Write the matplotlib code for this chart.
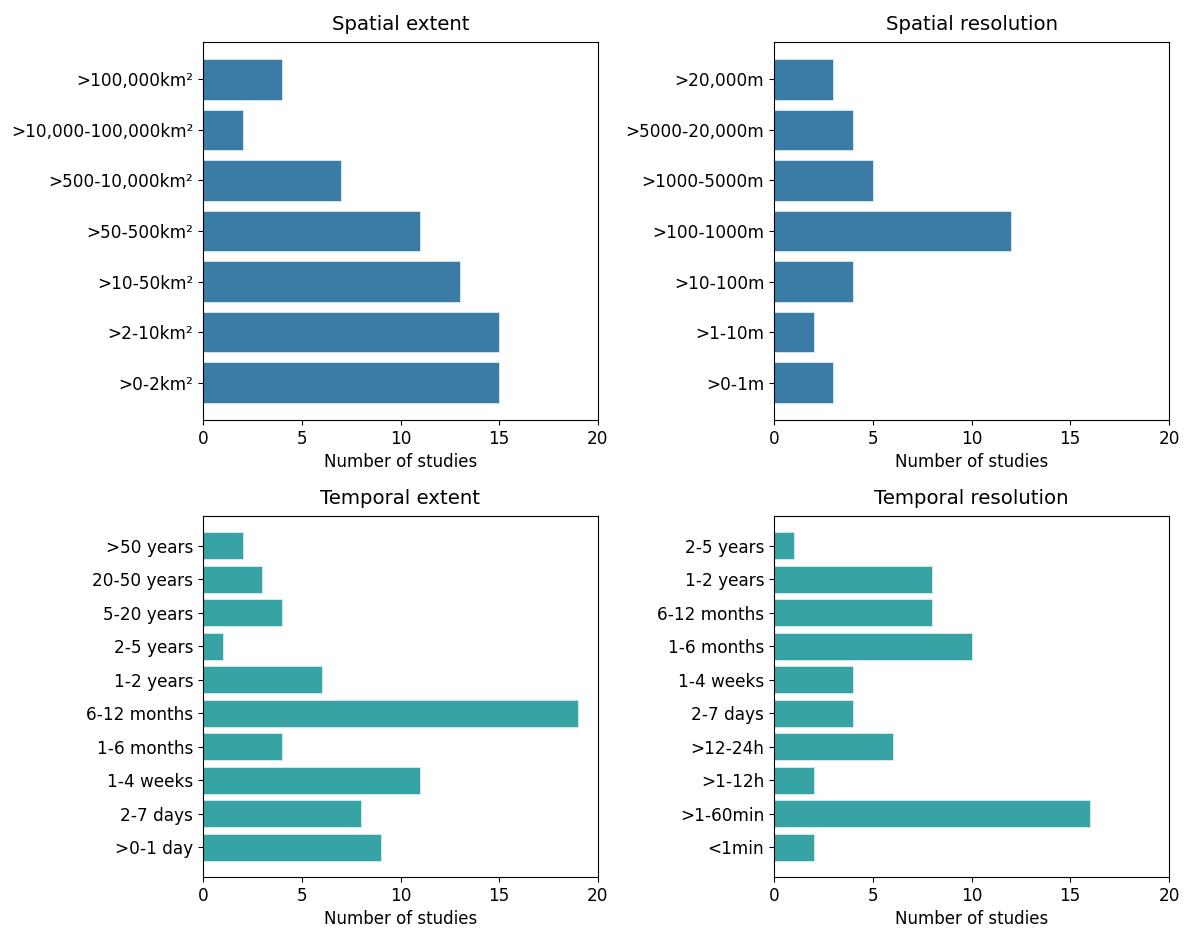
import matplotlib.pyplot as plt

# Study counts per scale category (bottom-to-top order as plotted)
spatial_extent_labels = [">0-2km²", ">2-10km²", ">10-50km²", ">50-500km²",
                         ">500-10,000km²", ">10,000-100,000km²", ">100,000km²"]
spatial_extent_counts = [15, 15, 13, 11, 7, 2, 4]

spatial_res_labels = [">0-1m", ">1-10m", ">10-100m", ">100-1000m",
                      ">1000-5000m", ">5000-20,000m", ">20,000m"]
spatial_res_counts = [3, 2, 4, 12, 5, 4, 3]

temporal_extent_labels = [">0-1 day", "2-7 days", "1-4 weeks", "1-6 months",
                          "6-12 months", "1-2 years", "2-5 years", "5-20 years",
                          "20-50 years", ">50 years"]
temporal_extent_counts = [9, 8, 11, 4, 19, 6, 1, 4, 3, 2]

temporal_res_labels = ["<1min", ">1-60min", ">1-12h", ">12-24h", "2-7 days",
                       "1-4 weeks", "1-6 months", "6-12 months", "1-2 years",
                       "2-5 years"]
temporal_res_counts = [2, 16, 2, 6, 4, 4, 10, 8, 8, 1]

SPATIAL_COLOR = "#3b7ca6"
TEMPORAL_COLOR = "#38a3a5"

W, H = 1188, 941
fig = plt.figure(figsize=(W / 100, H / 100), dpi=100)


def add_axes_px(x0, y0, x1, y1):
    # pixel box (top-left origin) -> figure fraction
    return fig.add_axes([x0 / W, 1 - y1 / H, (x1 - x0) / W, (y1 - y0) / H])


panels = [
    (add_axes_px(203, 42, 598, 420), "Spatial extent",
     spatial_extent_labels, spatial_extent_counts, SPATIAL_COLOR),
    (add_axes_px(774, 42, 1169, 420), "Spatial resolution",
     spatial_res_labels, spatial_res_counts, SPATIAL_COLOR),
    (add_axes_px(203, 516, 598, 877), "Temporal extent",
     temporal_extent_labels, temporal_extent_counts, TEMPORAL_COLOR),
    (add_axes_px(774, 516, 1169, 877), "Temporal resolution",
     temporal_res_labels, temporal_res_counts, TEMPORAL_COLOR),
]

for ax, title, labels, counts, color in panels:
    ax.barh(labels, counts, color=color, height=0.8, edgecolor="#d9ecef", linewidth=0.6)
    ax.set_title(title, fontsize=14.2, pad=9)
    ax.set_xlim(0, 20)
    ax.set_xticks([0, 5, 10, 15, 20])
    ax.set_xlabel("Number of studies", fontsize=12)
    ax.tick_params(labelsize=12.2)

fig.savefig("out.png", dpi=100)
